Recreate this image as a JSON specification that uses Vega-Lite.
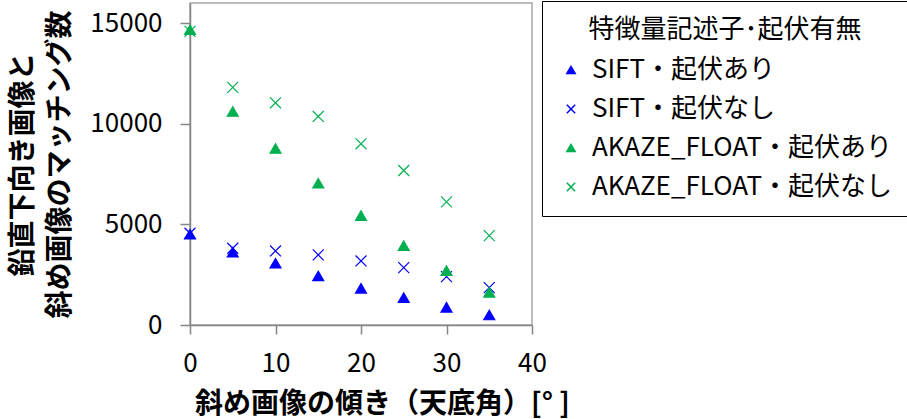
{
  "$schema": "https://vega.github.io/schema/vega-lite/v6.json",
  "autosize": "none",
  "width": 342,
  "height": 322,
  "padding": {"left": 190, "top": 3, "right": 375, "bottom": 94},
  "background": "white",
  "config": {
    "font": "Noto Sans CJK JP",
    "view": {"stroke": "#a6a6a6", "strokeWidth": 1.5},
    "axis": {"grid": false, "domainColor": "#868686", "tickColor": "#868686", "domainWidth": 1.5, "tickWidth": 1.5}
  },
  "data": {
    "values": [
      {"angle": 0, "matches": 4510, "series": "SIFT・起伏あり"},
      {"angle": 5, "matches": 3615, "series": "SIFT・起伏あり"},
      {"angle": 10, "matches": 3067, "series": "SIFT・起伏あり"},
      {"angle": 15, "matches": 2437, "series": "SIFT・起伏あり"},
      {"angle": 20, "matches": 1824, "series": "SIFT・起伏あり"},
      {"angle": 25, "matches": 1360, "series": "SIFT・起伏あり"},
      {"angle": 30, "matches": 879, "series": "SIFT・起伏あり"},
      {"angle": 35, "matches": 497, "series": "SIFT・起伏あり"},
      {"angle": 0, "matches": 4560, "series": "SIFT・起伏なし"},
      {"angle": 5, "matches": 3813, "series": "SIFT・起伏なし"},
      {"angle": 10, "matches": 3680, "series": "SIFT・起伏なし"},
      {"angle": 15, "matches": 3482, "series": "SIFT・起伏なし"},
      {"angle": 20, "matches": 3183, "series": "SIFT・起伏なし"},
      {"angle": 25, "matches": 2852, "series": "SIFT・起伏なし"},
      {"angle": 30, "matches": 2404, "series": "SIFT・起伏なし"},
      {"angle": 35, "matches": 1857, "series": "SIFT・起伏なし"},
      {"angle": 0, "matches": 14673, "series": "AKAZE_FLOAT・起伏あり"},
      {"angle": 5, "matches": 10611, "series": "AKAZE_FLOAT・起伏あり"},
      {"angle": 10, "matches": 8771, "series": "AKAZE_FLOAT・起伏あり"},
      {"angle": 15, "matches": 7047, "series": "AKAZE_FLOAT・起伏あり"},
      {"angle": 20, "matches": 5438, "series": "AKAZE_FLOAT・起伏あり"},
      {"angle": 25, "matches": 3946, "series": "AKAZE_FLOAT・起伏あり"},
      {"angle": 30, "matches": 2703, "series": "AKAZE_FLOAT・起伏あり"},
      {"angle": 35, "matches": 1625, "series": "AKAZE_FLOAT・起伏あり"},
      {"angle": 0, "matches": 14590, "series": "AKAZE_FLOAT・起伏なし"},
      {"angle": 5, "matches": 11805, "series": "AKAZE_FLOAT・起伏なし"},
      {"angle": 10, "matches": 11042, "series": "AKAZE_FLOAT・起伏なし"},
      {"angle": 15, "matches": 10363, "series": "AKAZE_FLOAT・起伏なし"},
      {"angle": 20, "matches": 9003, "series": "AKAZE_FLOAT・起伏なし"},
      {"angle": 25, "matches": 7677, "series": "AKAZE_FLOAT・起伏なし"},
      {"angle": 30, "matches": 6118, "series": "AKAZE_FLOAT・起伏なし"},
      {"angle": 35, "matches": 4443, "series": "AKAZE_FLOAT・起伏なし"}
    ]
  },
  "mark": {"type": "point", "filled": true, "size": 120, "strokeWidth": 1.2, "opacity": 1},
  "encoding": {
    "x": {
      "field": "angle", "type": "quantitative",
      "scale": {"domain": [0, 40], "nice": false},
      "axis": {
        "values": [0, 10, 20, 30, 40],
        "title": "斜め画像の傾き（天底角）[°  ]",
        "titleFontSize": 28, "titleFontWeight": "bold", "titleColor": "black",
        "titleX": 192, "titleY": 87, "titleBaseline": "alphabetic", "titleLimit": 0,
        "labelFontSize": 26, "labelColor": "black", "labelPadding": 16, "tickSize": 9,
        "labelFlush": false
      }
    },
    "y": {
      "field": "matches", "type": "quantitative",
      "scale": {"domain": [0, 16000], "nice": false},
      "axis": {
        "values": [0, 5000, 10000, 15000],
        "title": ["鉛直下向き画像と", "斜め画像のマッチング数"],
        "titleFontSize": 28, "titleFontWeight": "bold", "titleColor": "black",
        "titleLineHeight": 37, "titleLimit": 0,
        "titleX": -181, "titleBaseline": "top",
        "labelFontSize": 26, "labelColor": "black", "labelPadding": 18, "tickSize": 10,
        "format": "d"
      }
    },
    "color": {
      "field": "series", "type": "nominal",
      "scale": {
        "domain": ["SIFT・起伏あり", "SIFT・起伏なし", "AKAZE_FLOAT・起伏あり", "AKAZE_FLOAT・起伏なし"],
        "range": ["#0000ff", "#0000ff", "#00b050", "#00b050"]
      },
      "legend": {
        "orient": "none", "legendX": 352, "legendY": -2,
        "title": "特徴量記述子･起伏有無",
        "titleFontSize": 26, "titleFontWeight": "normal", "titleColor": "black",
        "titleAnchor": "middle", "titlePadding": 14, "titleLimit": 0,
        "labelFontSize": 26, "labelColor": "black", "labelOffset": 8, "labelLimit": 0,
        "symbolSize": 70, "rowPadding": 13,
        "strokeColor": "black", "fillColor": "white", "padding": 16
      }
    },
    "stroke": {
      "field": "series", "type": "nominal",
      "scale": {
        "domain": ["SIFT・起伏あり", "SIFT・起伏なし", "AKAZE_FLOAT・起伏あり", "AKAZE_FLOAT・起伏なし"],
        "range": ["#0000ff", "#0000ff", "#00b050", "#00b050"]
      }
    },
    "shape": {
      "field": "series", "type": "nominal",
      "scale": {
        "domain": ["SIFT・起伏あり", "SIFT・起伏なし", "AKAZE_FLOAT・起伏あり", "AKAZE_FLOAT・起伏なし"],
        "range": ["triangle-up", "M-1,-1L1,1M1,-1L-1,1", "triangle-up", "M-1,-1L1,1M1,-1L-1,1"]
      }
    }
  }
}
